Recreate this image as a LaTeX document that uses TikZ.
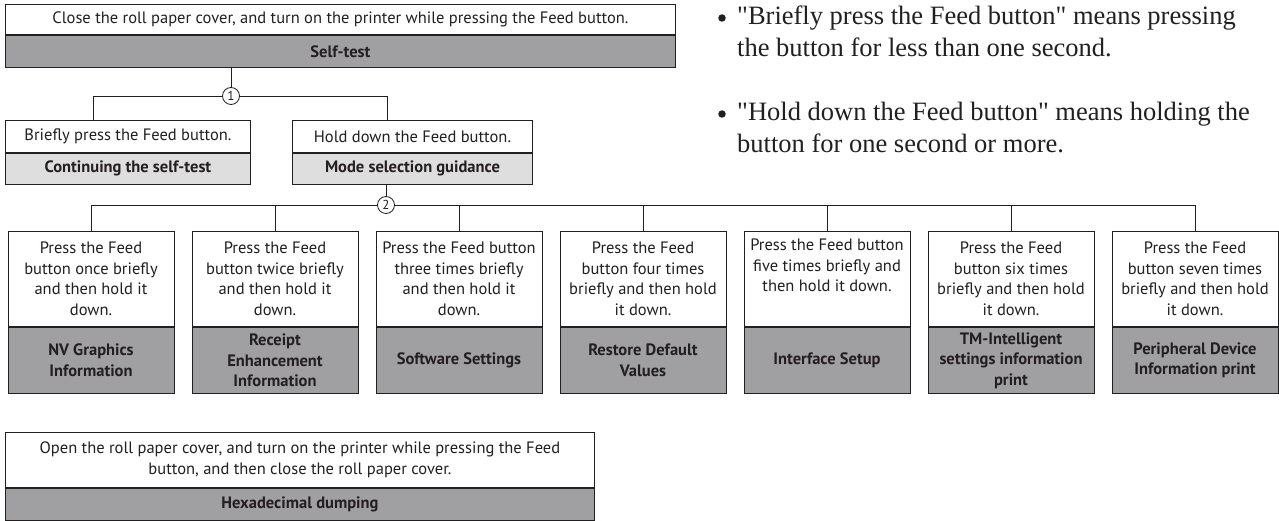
\documentclass[tikz,border=0pt]{standalone}
\usepackage{fontspec}
\setmainfont{PT Sans}
\newfontfamily\notefont{Liberation Serif}
\definecolor{lc}{HTML}{231F20}
\definecolor{gdark}{HTML}{A0A0A2}
\definecolor{glight}{HTML}{DEDEDF}
\begin{document}
\begin{tikzpicture}[x=1pt,y=-1pt,
  base/.style={draw=lc, line width=0.9pt, inner sep=0pt, align=center, text=lc,
    font=\fontsize{16.5}{20.5}\selectfont},
  wb/.style={base, fill=white},
  gb/.style={base, fill=gdark, font=\fontsize{16.5}{20.5}\selectfont\bfseries},
  lb/.style={base, fill=glight, font=\fontsize{16.5}{20.5}\selectfont\bfseries},
  circ/.style={circle, draw=lc, line width=0.8pt, fill=white, inner sep=0pt,
    minimum size=17pt, text=lc, font=\fontsize{13}{13}\selectfont},
  conn/.style={draw=lc, line width=0.9pt},
  note/.style={anchor=base west, inner sep=0pt, text=lc,
    font=\notefont\fontsize{26.5}{32}\selectfont},
  dot/.style={circle, fill=lc, inner sep=0pt, minimum size=7.5pt}
]
\path[fill=white,use as bounding box] (0,0) rectangle (1279,521);

% top box
\node[wb, minimum width=670, minimum height=30, anchor=north west] (topw) at (5,4)
  {Close the roll paper cover, and turn on the printer while pressing the Feed button.};
\node[gb, minimum width=670, minimum height=32, anchor=north] (topg) at (topw.south) {Self-test};

% first branch
\node[circ] (n1) at (231,96) {1};
\coordinate (b1) at (93,120);
\coordinate (b2) at (387,120);
\draw[conn] (topg.south -| n1) -- (n1.north);
\draw[conn] (n1.west) -| (b1);
\draw[conn] (n1.east) -| (b2);

\node[wb, minimum width=245, minimum height=32, anchor=north west] (lw) at (5,120)
  {Briefly press the Feed button.};
\node[lb, minimum width=245, minimum height=31, anchor=north] (lg) at (lw.south) {Continuing the self-test};
\node[wb, minimum width=240, minimum height=32, anchor=north west] (rw) at (292,120)
  {Hold down the Feed button.};
\node[lb, minimum width=240, minimum height=31, anchor=north] (rg) at (rw.south) {Mode selection guidance};

% second branch
\node[circ] (n2) at (386,205) {2};
\draw[conn] (rg.south -| n2) -- (n2.north);

\foreach \i/\cx/\wt/\gt in {
  1/91/{Press the Feed\\button once briefly\\and then hold it\\down.}/{NV Graphics\\Information},
  2/275/{Press the Feed\\button twice briefly\\and then hold it\\down.}/{Receipt\\Enhancement\\Information},
  3/459/{Press the Feed button\\three times briefly\\and then hold it\\down.}/{Software Settings},
  4/643/{Press the Feed\\button four times\\briefly and then hold\\it down.}/{Restore Default\\Values},
  5/827/{Press the Feed button\\five times briefly and\\then hold it down.\\\strut}/{Interface Setup},
  6/1011/{Press the Feed\\button six times\\briefly and then hold\\it down.}/{TM-Intelligent\\settings information\\print},
  7/1195/{Press the Feed\\button seven times\\briefly and then hold\\it down.}/{Peripheral Device\\Information print}}{
  \node[wb, minimum width=166, minimum height=95, anchor=north] (s\i w) at (\cx,231) {\wt};
  \node[gb, minimum width=166, minimum height=66, anchor=north] (s\i g) at (s\i w.south) {\gt};
}
\draw[conn] (n2.west) -| (s1w.north);
\draw[conn] (n2.east) -| (s7w.north);
\foreach \i in {2,...,6}{
  \draw[conn] (s\i w.north) -- (s\i w.north |- n2);
}

% hex dump
\node[wb, minimum width=589, minimum height=55, anchor=north west] (hw) at (5,432)
  {Open the roll paper cover, and turn on the printer while pressing the Feed\\button, and then close the roll paper cover.};
\node[gb, minimum width=589, minimum height=32, anchor=north] (hg) at (hw.south) {Hexadecimal dumping};

% notes
\node[note] (t1a) at (737,25) {"Briefly press the Feed button" means pressing};
\node[note] (t1b) at (737,57) {the button for less than one second.};
\node[dot] (d1) at ([xshift=-15pt,yshift=7pt]t1a.base west) {};
\node[note] (t2a) at (737,121) {"Hold down the Feed button" means holding the};
\node[note] (t2b) at (737,153) {button for one second or more.};
\node[dot] (d2) at ([xshift=-15pt,yshift=7pt]t2a.base west) {};
\end{tikzpicture}
\end{document}
